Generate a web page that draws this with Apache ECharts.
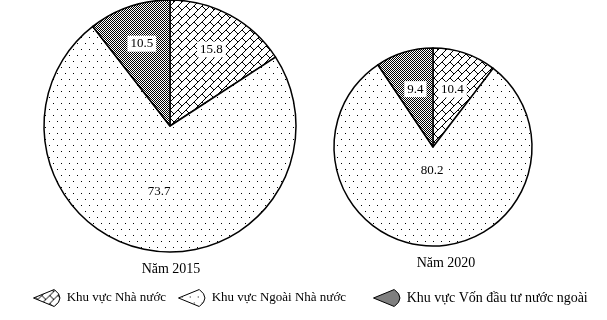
<!DOCTYPE html>
<html><head><meta charset="utf-8">
<script src="https://cdn.jsdelivr.net/npm/echarts@6/dist/echarts.min.js"></script>
<style>html,body{margin:0;padding:0;background:#fff}#c{width:607px;height:320px}</style>
</head><body><div id="c"></div>
<script>
const categories = ['Khu vực Nhà nước', 'Khu vực Ngoài Nhà nước', 'Khu vực Vốn đầu tư nước ngoài'];
const values2015 = [15.8, 73.7, 10.5];
const values2020 = [10.4, 80.2, 9.4];
const yearTitles = ['Năm 2015', 'Năm 2020'];

const FONT = 'Liberation Serif';

function mkCanvas(w, h) { const c = document.createElement('canvas'); c.width = w; c.height = h; const x = c.getContext('2d'); x.fillStyle = '#fff'; x.fillRect(0, 0, w, h); return [c, x]; }
function dotsPattern() {
  const [c, x] = mkCanvas(8, 12); x.fillStyle = '#000';
  x.fillRect(1, 1, 1, 1); x.fillRect(5, 7, 1, 1); return c;
}
function checkerPattern() {
  const [c, x] = mkCanvas(2, 2); x.fillStyle = '#000';
  x.fillRect(0, 0, 1, 1); x.fillRect(1, 1, 1, 1); return c;
}
function brickPattern() {
  const [c, x] = mkCanvas(16, 16); x.strokeStyle = '#000'; x.lineWidth = 1;
  x.beginPath();
  for (let k = -2; k <= 6; k++) { const s = 8 * k; x.moveTo(-20, s + 20); x.lineTo(s + 20, -20); }
  for (let k = -4; k <= 8; k++) {
    for (let m = -4; m <= 4; m++) {
      const d = 4 + 8 * (((k % 2) + 2) % 2) + 16 * m;
      x.moveTo((8 * k + d) / 2, (8 * k - d) / 2);
      x.lineTo((8 * k + 8 + d) / 2, (8 * k + 8 - d) / 2);
    }
  }
  x.stroke(); return c;
}
const fills = [
  { image: brickPattern(), repeat: 'repeat' },
  { image: dotsPattern(), repeat: 'repeat' },
  { image: checkerPattern(), repeat: 'repeat' }
];

const labelStyle = { fontFamily: FONT, fontSize: 13, color: '#000', backgroundColor: '#fff', padding: [2, 3, 1, 3] };

function mainData(vals, labelIdx) {
  return vals.map((v, i) => ({
    name: categories[i], value: v,
    itemStyle: { color: fills[i], borderColor: '#000', borderWidth: 1.5 },
    label: { show: labelIdx.includes(i) }
  }));
}
function labelData(vals, labelIdx) {
  return vals.map((v, i) => ({
    name: categories[i], value: v,
    itemStyle: { color: 'rgba(0,0,0,0)', borderWidth: 0 },
    label: { show: labelIdx.includes(i) }
  }));
}
const common = {
  type: 'pie', startAngle: 90, clockwise: true, avoidLabelOverlap: false,
  label: Object.assign({ position: 'inside', formatter: '{c}' }, labelStyle),
  labelLine: { show: false }, emphasis: { disabled: true }, animation: false
};

const chart = echarts.init(document.getElementById('c'), null, { renderer: 'canvas' });
const legendIcon = 'path://M0,9 L22,0 Q34,9 22,18 Z';
function legendCfg(left, idx, fs) {
  return { left: left, top: 284, data: [categories[idx]], itemWidth: 30, itemHeight: 17, icon: legendIcon, selectedMode: false,
    textStyle: { fontFamily: FONT, fontSize: fs, color: '#000' },
    itemStyle: { borderColor: '#000', borderWidth: 1 } };
}

chart.setOption({
  backgroundColor: '#fff',
  animation: false,
  title: [
    { text: yearTitles[0], left: 166, top: 257, textAlign: 'center', textStyle: { fontFamily: FONT, fontSize: 14, fontWeight: 'normal', color: '#000' } },
    { text: yearTitles[1], left: 441, top: 251, textAlign: 'center', textStyle: { fontFamily: FONT, fontSize: 14, fontWeight: 'normal', color: '#000' } }
  ],
  legend: [legendCfg(28, 0, 13), legendCfg(173, 1, 13), legendCfg(368, 2, 14)],
  series: [
    Object.assign({}, common, { name: 'main2015', center: [170, 126], radius: [0, 126], data: mainData(values2015, [1]) }),
    Object.assign({}, common, { name: 'main2020', center: [433, 147], radius: [0, 99], data: mainData(values2020, []) }),
    Object.assign({}, common, { name: 'lab2015', silent: true, center: [170, 126], radius: [42, 126], data: labelData(values2015, [0, 2]) }),
    Object.assign({}, common, { name: 'lab2020s', silent: true, center: [433, 147], radius: [16, 99], data: labelData(values2020, [0, 2]) }),
    Object.assign({}, common, { name: 'lab2020b', silent: true, center: [433, 147], radius: [0, 42], data: labelData(values2020, [1]) })
  ]
});
</script></body></html>
